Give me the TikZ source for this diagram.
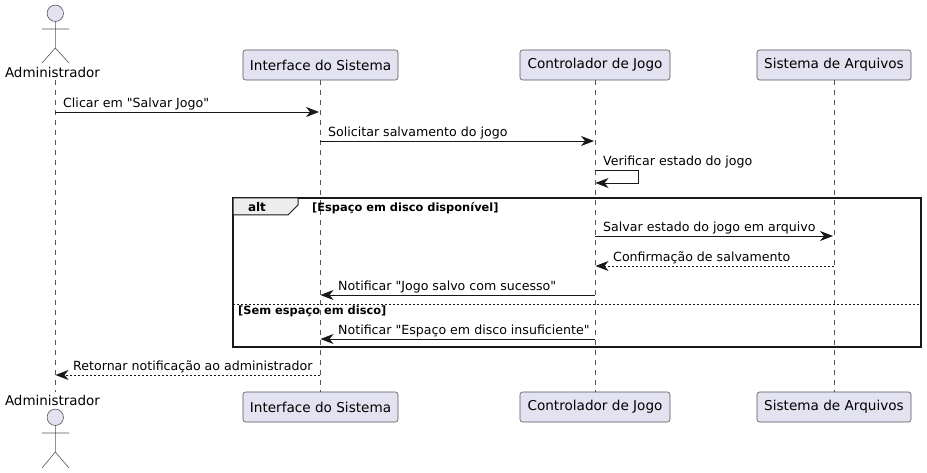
\documentclass[tikz,border=0pt]{standalone}
\usepackage{fontspec}
\setmainfont[Ligatures=TeXOff]{DejaVu Sans}
\usetikzlibrary{arrows.meta}
\definecolor{partfill}{HTML}{E2E2F0}
\definecolor{partline}{HTML}{555555}
\definecolor{lineink}{HTML}{181818}
\tikzset{
  part/.style={draw=partline,fill=partfill,rounded corners=2.5pt,line width=0.6pt,
    minimum height=30pt,inner sep=0pt,font=\fontsize{13.6}{16}\selectfont},
  actorname/.style={inner sep=0pt,font=\fontsize{13.45}{16}\selectfont},
  actorline/.style={draw=partline,line width=0.6pt},
  lifeline/.style={draw=partline,line width=0.5pt,dash pattern=on 5pt off 5pt},
  msg/.style={draw=lineink,line width=0.8pt,-{Stealth[length=13pt,width=10pt,inset=4pt]}},
  reply/.style={msg,dash pattern=on 2pt off 2pt},
  msglabel/.style={anchor=base west,inner sep=0pt,font=\fontsize{12.6}{15}\selectfont},
  guard/.style={anchor=base west,inner sep=0pt,font=\fontsize{11.4}{13}\selectfont\bfseries},
  framebox/.style={draw=lineink,line width=1.5pt},
}
\begin{document}
\begin{tikzpicture}[x=1pt,y=-1pt]
  \useasboundingbox (0,0) rectangle (927,473);

  % top row
  \node[actorname,anchor=base] (admtop) at (52.5,78) {Administrador};
  \node[part,minimum width=155pt] (intertop) at (320.5,65) {Interface do Sistema};
  \node[part,minimum width=150pt] (conttop) at (595,65) {Controlador de Jogo};
  \node[part,minimum width=154pt] (arqtop) at (834,65) {Sistema de Arquivos};

  % bottom row
  \node[actorname,anchor=base] (admbot) at (52.5,405) {Administrador};
  \node[part,minimum width=155pt] (interbot) at (320.5,407) {Interface do Sistema};
  \node[part,minimum width=150pt] (contbot) at (595,407) {Controlador de Jogo};
  \node[part,minimum width=154pt] (arqbot) at (834,407) {Sistema de Arquivos};

  % lifelines
  \coordinate (admstart) at (55,80);
  \coordinate (admend) at (55,392);
  \draw[lifeline] (admstart) -- (admend);
  \draw[lifeline] (intertop.south) -- (interbot.north);
  \draw[lifeline] (conttop.south) -- (contbot.north);
  \draw[lifeline] (arqtop.south) -- (arqbot.north);

  % actor figures
  \draw[actorline,fill=partfill] (55.3,13.3) circle[radius=8.2];
  \draw[actorline] (55.3,21.5) -- (55.3,48) (42,29) -- (69,29) (42,63) -- (55.3,48) -- (69,63);
  \draw[actorline,fill=partfill] (55.3,417.3) circle[radius=8.2];
  \draw[actorline] (55.3,425.5) -- (55.3,452) (42,433) -- (69,433) (42,468) -- (55.3,452) -- (69,468);

  % alt frame
  \draw[framebox] (233,198) rectangle (921,347);
  \draw[line width=1pt,draw=lineink,fill=black!7] (233,198) -- (298,198) -- (298,205) -- (288,215) -- (233,215) -- cycle;
  \node[anchor=base,inner sep=0pt,font=\fontsize{12}{15}\selectfont\bfseries] (altname) at (257,212) {alt};
  \node[guard] (guardone) at (312,211.5) {[Espaço em disco disponível]};
  \coordinate (sepa) at (233,304);
  \coordinate (sepb) at (921,304);
  \draw[draw=lineink,line width=0.6pt,dash pattern=on 2pt off 2pt] (sepa) -- (sepb);
  \node[guard] (guardtwo) at (238,314.5) {[Sem espaço em disco]};

  % messages
  \coordinate (ma) at (55,112);
  \coordinate (mb) at (319,112);
  \draw[msg] (ma) -- (mb);
  \node[msglabel] (la) at (63,107.5) {Clicar em "Salvar Jogo"};

  \coordinate (mc) at (320,141);
  \coordinate (md) at (594,141);
  \draw[msg] (mc) -- (md);
  \node[msglabel] (lb) at (328,136.5) {Solicitar salvamento do jogo};

  \coordinate (me) at (595,170);
  \coordinate (mf) at (638,170);
  \coordinate (mg) at (638,183);
  \coordinate (mh) at (595.5,183);
  \draw[msg] (me) -- (mf) -- (mg) -- (mh);
  \node[msglabel] (lc) at (603,166) {Verificar estado do jogo};

  \coordinate (mi) at (595,236);
  \coordinate (mj) at (833,236);
  \draw[msg] (mi) -- (mj);
  \node[msglabel] (ld) at (603,232) {Salvar estado do jogo em arquivo};

  \coordinate (mk) at (834,266);
  \coordinate (ml) at (595.5,266);
  \draw[reply] (mk) -- (ml);
  \node[msglabel] (le) at (613,261.5) {Confirmação de salvamento};

  \coordinate (mm) at (595,295);
  \coordinate (mn) at (320.5,295);
  \draw[msg] (mm) -- (mn);
  \node[msglabel] (lf) at (338,290.5) {Notificar "Jogo salvo com sucesso"};

  \coordinate (mo) at (595,339);
  \coordinate (mp) at (320.5,339);
  \draw[msg] (mo) -- (mp);
  \node[msglabel] (lg) at (338,334.5) {Notificar "Espaço em disco insuficiente"};

  \coordinate (mq) at (320,375);
  \coordinate (mr) at (55.5,375);
  \draw[reply] (mq) -- (mr);
  \node[msglabel] (lh) at (73,370.5) {Retornar notificação ao administrador};
\end{tikzpicture}
\end{document}
